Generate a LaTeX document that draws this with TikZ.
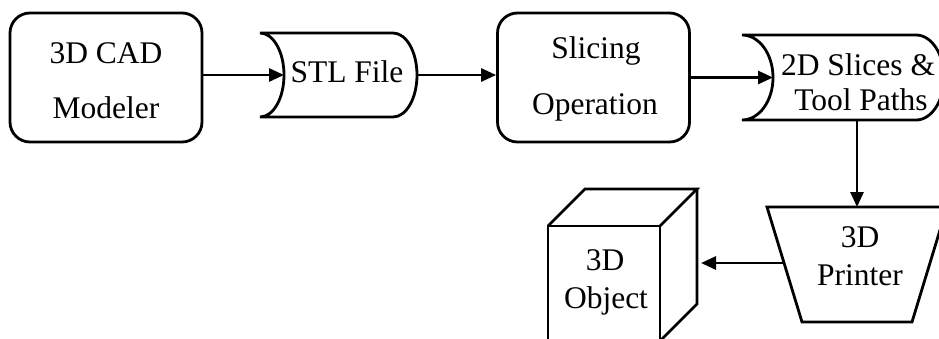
\documentclass[tikz,border=0pt]{standalone}
\usepackage{fontspec}
\setmainfont{Liberation Serif}
\usetikzlibrary{arrows.meta}
\begin{document}
\begin{tikzpicture}[x=1pt, y=-1pt, line width=2.8pt,
  lbl/.style={font=\fontsize{31.5}{38}\selectfont, inner sep=0pt, anchor=base},
  flow/.style={-{Triangle[length=15pt,width=13pt]}},
  rbox/.style={draw, rounded corners=20pt, minimum width=192pt,
               minimum height=129pt, inner sep=0pt}]
  \useasboundingbox (0,0) rectangle (939,338);
  \fill[white] (0,0) rectangle (939,338);
  \clip (0,0) rectangle (939,338);

  % 3D CAD modeler (process box)
  \node[rbox] (cad) at (106,77.5) {};
  \node[lbl] (cadA) at (106,63) {3D CAD};
  \node[lbl] (cadB) at (106,118) {Modeler};

  % STL file (stored data)
  \draw (260,33) -- (393,33)
        .. controls (406.3,33) and (417,51.8) .. (417,75)
        .. controls (417,98.2) and (406.3,117) .. (393,117)
        -- (260,117)
        .. controls (273.3,117) and (284,98.2) .. (284,75)
        .. controls (284,51.8) and (273.3,33) .. (260,33) -- cycle;
  \coordinate (stlIn) at (284,75);
  \coordinate (stlOut) at (417,75);
  \node[lbl] (stlA) at (347,82) {STL File};

  % Slicing operation (process box)
  \node[rbox] (slice) at (593.5,77.5) {};
  \node[lbl] (sliceA) at (596,58) {Slicing};
  \node[lbl] (sliceB) at (595,114) {Operation};

  % 2D slices and tool paths (stored data)
  \draw (742,35) -- (916,35)
        .. controls (931.5,35) and (944,54) .. (944,77.5)
        .. controls (944,101) and (931.5,120) .. (916,120)
        -- (742,120)
        .. controls (759.1,120) and (773,101) .. (773,77.5)
        .. controls (773,54) and (759.1,35) .. (742,35) -- cycle;
  \coordinate (slicesIn) at (773,77.5);
  \coordinate (slicesOut) at (857,120);
  \node[lbl] (slicesA) at (858,75) {2D Slices \&};
  \node[lbl] (slicesB) at (861,110) {Tool Paths};

  % 3D printer (trapezoid)
  \draw (767,207) -- (947,207) -- (912,322) -- (802,322) -- cycle;
  \coordinate (printerIn) at (857,207);
  \coordinate (printerOut) at (784,263);
  \node[lbl] (printerA) at (860,247) {3D};
  \node[lbl] (printerB) at (860,285) {Printer};

  % 3D object (cube)
  \draw (548,226) rectangle (660,341);
  \draw (548,226) -- (585,189) -- (697,189) -- (660,226);
  \draw (697,189) -- (697,304) -- (660,341);
  \coordinate (objIn) at (701,263);
  \node[lbl] (objA) at (605,270) {3D};
  \node[lbl] (objB) at (606,308) {Object};

  % connectors
  \draw[flow] (cad.east |- stlIn) -- (stlIn);
  \draw[flow] (stlOut) -- (slice.west |- stlOut);
  \draw[flow] (slice.east |- slicesIn) -- (slicesIn);
  \draw[flow] (slicesOut) -- (printerIn);
  \draw[flow] (printerOut) -- (objIn);
\end{tikzpicture}
\end{document}
